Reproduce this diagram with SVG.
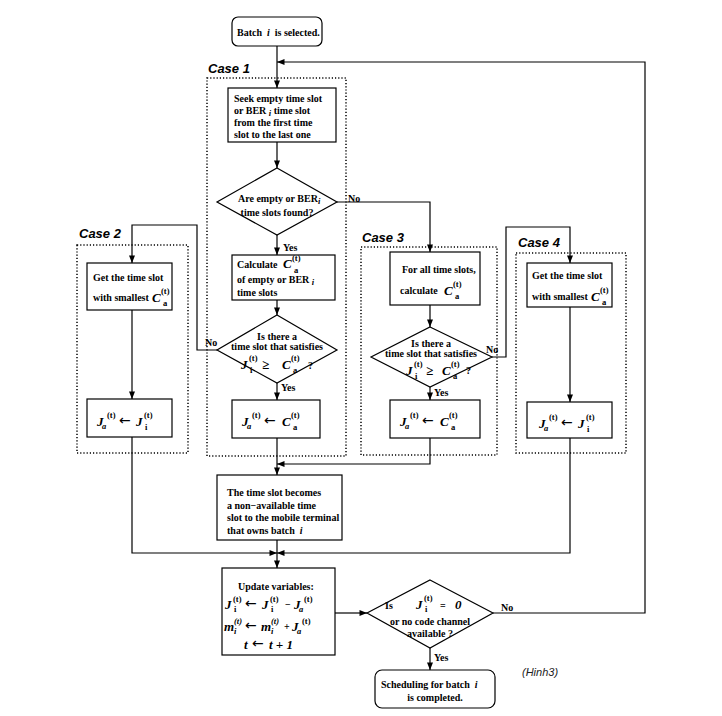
<svg xmlns="http://www.w3.org/2000/svg" width="722" height="716" viewBox="0 0 722 716">
<style>
.t{font-family:"Liberation Serif",serif;font-weight:bold;font-size:10px;fill:#000}
.m{font-family:"Liberation Serif",serif;font-weight:bold;font-style:italic;font-size:13px;fill:#000}
.s{font-family:"Liberation Serif",serif;font-weight:bold;font-size:8.5px;fill:#000}
.si{font-family:"Liberation Serif",serif;font-weight:bold;font-style:italic;font-size:8.5px;fill:#000}
.a{font-family:"DejaVu Sans",sans-serif;font-size:14px;fill:#000}
.g{font-family:"Liberation Serif",serif;font-weight:bold;font-size:13px;fill:#000}
.c{font-family:"Liberation Sans",sans-serif;font-weight:bold;font-style:italic;font-size:13px;fill:#000}
.box{fill:#fff;stroke:#000;stroke-width:1.2}
.dot{fill:none;stroke:#000;stroke-width:1.5;stroke-dasharray:1.2 2}
.ar{fill:none;stroke:#000;stroke-width:1.2;marker-end:url(#ah)}
</style>
<defs>
<marker id="ah" viewBox="0 0 10 8" refX="10" refY="4" markerWidth="8" markerHeight="6" markerUnits="userSpaceOnUse" orient="auto"><path d="M0,0 L10,4 L0,8 z" fill="#000"/></marker>
</defs>
<rect width="722" height="716" fill="#fff"/>

<g id="cases">
<rect class="dot" x="207" y="78" width="139" height="378"/>
<text class="c" x="208" y="73">Case 1</text>
<rect class="dot" x="77" y="245" width="111" height="208"/>
<text class="c" x="79" y="238">Case 2</text>
<rect class="dot" x="361" y="247" width="136" height="208"/>
<text class="c" x="362" y="242">Case 3</text>
<rect class="dot" x="516" y="253" width="110" height="200"/>
<text class="c" x="518" y="247">Case 4</text>
</g>

<g id="connectors">
<path class="ar" d="M277,46 V88"/>
<path class="ar" d="M493,613 H645 V62 H277"/>
<path class="ar" d="M277,142 V168"/>
<path class="ar" d="M277,235 V255"/>
<path class="ar" d="M337,202 H430 V252"/>
<path class="ar" d="M277,300 V315"/>
<path class="ar" d="M277,383 V400"/>
<path class="ar" d="M217,350 H197 V225 H132 V263"/>
<path class="ar" d="M132,310 V399"/>
<path class="ar" d="M132,437 V553 H277"/>
<path class="ar" d="M277,438 V475"/>
<path class="ar" d="M430,305 V327"/>
<path class="ar" d="M430,387 V400"/>
<path class="ar" d="M492,357 H506 V227 H570 V263"/>
<path class="ar" d="M570,307 V402"/>
<path class="ar" d="M430,438 V464 H277"/>
<path class="ar" d="M570,438 V553 H277"/>
<path class="ar" d="M277,540 V568"/>
<path class="ar" d="M335,613 H367"/>
<path class="ar" d="M430,648 V670"/>
<text class="t" x="348" y="202">No</text>
<text class="t" x="283" y="251">Yes</text>
<text class="t" x="205" y="346">No</text>
<text class="t" x="281" y="391">Yes</text>
<text class="t" x="486" y="353">No</text>
<text class="t" x="434" y="396">Yes</text>
<text class="t" x="501" y="611">No</text>
<text class="t" x="434" y="661">Yes</text>
</g>

<g id="start">
<rect class="box" x="232" y="17" width="90" height="29" rx="6"/>
<text class="t" x="237" y="36" font-size="10.5">Batch<tspan font-style="italic" dx="5">i</tspan><tspan dx="5">is selected.</tspan></text>
</g>

<g id="seek">
<rect class="box" x="228" y="88" width="108" height="54"/>
<text class="t" x="234" y="102">Seek empty time slot</text>
<text class="t" x="234" y="114">or BER <tspan class="si" dy="2">i</tspan><tspan dy="-2"> time slot</tspan></text>
<text class="t" x="234" y="126">from the first time</text>
<text class="t" x="234" y="138">slot to the last one</text>
</g>

<g id="found">
<polygon class="box" points="277,168 337,202 277,235 217,202"/>
<text class="t" x="238" y="202">Are empty or BER<tspan class="si" dy="2">i</tspan></text>
<text class="t" x="277" y="216" text-anchor="middle">time slots found?</text>
</g>

<g id="calc1">
<rect class="box" x="232" y="255" width="103" height="45"/>
<text class="t" x="237" y="268">Calculate</text>
<text class="m" x="283" y="268">C</text><text class="s" x="292" y="261">(t)</text><text class="s" x="294" y="273">a</text>
<text class="t" x="237" y="283">of empty or BER <tspan class="si" dy="2">i</tspan></text>
<text class="t" x="237" y="296">time slots</text>
</g>

<g id="sat1">
<polygon class="box" points="277,315 337,350 277,383 217,350"/>
<text class="t" x="277" y="340" text-anchor="middle">Is there a</text>
<text class="t" x="277" y="350" text-anchor="middle">time slot that satisfies</text>
<text class="m" x="241" y="369">J</text><text class="s" x="249" y="361">(t)</text><text class="s" x="250" y="373">i</text>
<text class="g" x="262" y="369">≥</text>
<text class="m" x="282" y="369">C</text><text class="s" x="291" y="361">(t)</text><text class="s" x="293" y="373">a</text>
<text class="t" x="308" y="369">?</text>
</g>

<g id="assign1">
<rect class="box" x="232" y="400" width="88" height="38"/>
<text class="m" x="242" y="426">J</text><text class="si" x="247" y="429">a</text><text class="s" x="252" y="418">(t)</text>
<text class="a" x="264" y="425">←</text>
<text class="m" x="282" y="426">C</text><text class="s" x="291" y="418">(t)</text><text class="s" x="293" y="430">a</text>
</g>

<g id="get2">
<rect class="box" x="87" y="263" width="85" height="47"/>
<text class="t" x="93" y="281">Get the time slot</text>
<text class="t" x="93" y="301">with smallest</text>
<text class="m" x="152" y="302">C</text><text class="s" x="161" y="294">(t)</text><text class="s" x="163" y="306">a</text>
</g>

<g id="assign2">
<rect class="box" x="87" y="399" width="85" height="38"/>
<text class="m" x="97" y="426">J</text><text class="si" x="102" y="429">a</text><text class="s" x="107" y="418">(t)</text>
<text class="a" x="119" y="425">←</text>
<text class="m" x="136" y="426">J</text><text class="s" x="144" y="418">(t)</text><text class="s" x="145" y="430">i</text>
</g>

<g id="calc3">
<rect class="box" x="390" y="252" width="90" height="53"/>
<text class="t" x="402" y="273">For all time slots,</text>
<text class="t" x="400" y="294">calculate</text>
<text class="m" x="444" y="295">C</text><text class="s" x="453" y="287">(t)</text><text class="s" x="455" y="299">a</text>
</g>

<g id="sat3">
<polygon class="box" points="430,327 492,357 430,387 371,357"/>
<text class="t" x="431" y="347" text-anchor="middle">Is there a</text>
<text class="t" x="431" y="357" text-anchor="middle">time slot that satisfies</text>
<text class="m" x="406" y="375">J</text><text class="s" x="414" y="367">(t)</text><text class="s" x="415" y="379">i</text>
<text class="g" x="426" y="375">≥</text>
<text class="m" x="442" y="375">C</text><text class="s" x="451" y="367">(t)</text><text class="s" x="453" y="379">a</text>
<text class="t" x="466" y="374">?</text>
</g>

<g id="assign3">
<rect class="box" x="390" y="400" width="90" height="38"/>
<text class="m" x="400" y="426">J</text><text class="si" x="405" y="429">a</text><text class="s" x="410" y="418">(t)</text>
<text class="a" x="422" y="425">←</text>
<text class="m" x="440" y="426">C</text><text class="s" x="449" y="418">(t)</text><text class="s" x="451" y="430">a</text>
</g>

<g id="get4">
<rect class="box" x="527" y="263" width="85" height="44"/>
<text class="t" x="532" y="279">Get the time slot</text>
<text class="t" x="532" y="300">with smallest</text>
<text class="m" x="591" y="301">C</text><text class="s" x="600" y="293">(t)</text><text class="s" x="602" y="305">a</text>
</g>

<g id="assign4">
<rect class="box" x="527" y="402" width="85" height="36"/>
<text class="m" x="539" y="428">J</text><text class="si" x="544" y="431">a</text><text class="s" x="549" y="420">(t)</text>
<text class="a" x="561" y="427">←</text>
<text class="m" x="578" y="428">J</text><text class="s" x="586" y="420">(t)</text><text class="s" x="587" y="432">i</text>
</g>

<g id="nonavail">
<rect class="box" x="217" y="475" width="125" height="65"/>
<text class="t" x="227" y="496">The time slot becomes</text>
<text class="t" x="227" y="509">a non−available time</text>
<text class="t" x="227" y="521">slot to the mobile terminal</text>
<text class="t" x="227" y="534">that owns batch<tspan font-style="italic" dx="5">i</tspan></text>
</g>

<g id="update">
<rect class="box" x="222" y="568" width="113" height="87"/>
<text class="t" x="238" y="590">Update variables:</text>
<text class="m" x="225" y="609">J</text><text class="s" x="233" y="602">(t)</text><text class="s" x="234" y="612">i</text>
<text class="a" x="245" y="608">←</text>
<text class="m" x="262" y="609">J</text><text class="s" x="270" y="602">(t)</text><text class="s" x="271" y="612">i</text>
<text class="t" x="285" y="608">−</text>
<text class="m" x="294" y="609">J</text><text class="si" x="299" y="612">a</text><text class="s" x="304" y="602">(t)</text>
<text class="m" x="224" y="631">m</text><text class="si" x="234" y="634">i</text><text class="si" x="234" y="624">(t)</text>
<text class="a" x="245" y="630">←</text>
<text class="m" x="261" y="631">m</text><text class="si" x="271" y="634">i</text><text class="si" x="271" y="624">(t)</text>
<text class="t" x="284" y="630">+</text>
<text class="m" x="292" y="631">J</text><text class="si" x="297" y="634">a</text><text class="s" x="302" y="624">(t)</text>
<text class="m" x="244" y="649">t</text>
<text class="a" x="252" y="648">←</text>
<text class="m" x="269" y="649">t + 1</text>
</g>

<g id="done">
<polygon class="box" points="430,580 493,613 430,648 367,613"/>
<text class="t" x="385" y="609">Is</text>
<text class="m" x="416" y="609">J</text><text class="s" x="424" y="601">(t)</text><text class="s" x="425" y="612">i</text>
<text class="t" x="440" y="609" font-size="12">=</text>
<text class="m" x="455" y="609">0</text>
<text class="t" x="430" y="625" text-anchor="middle">or no code channel</text>
<text class="t" x="430" y="637" text-anchor="middle">available ?</text>
</g>

<g id="end">
<rect class="box" x="375" y="670" width="120" height="38" rx="7"/>
<text class="t" x="381" y="688">Scheduling for batch<tspan font-style="italic" dx="5">i</tspan></text>
<text class="t" x="435" y="701" text-anchor="middle">is completed.</text>
</g>

<text x="522" y="676" font-family="Liberation Sans, sans-serif" font-style="italic" font-size="11" fill="#222">(Hinh3)</text>
</svg>
